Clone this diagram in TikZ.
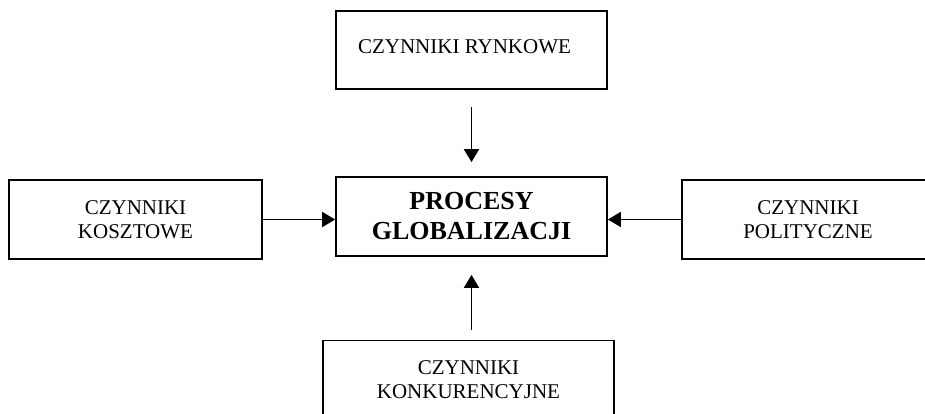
\documentclass[tikz,border=0pt]{standalone}
\usepackage{fontspec}
\setmainfont{Liberation Serif}
\usepackage{tikz}
\usetikzlibrary{arrows.meta,positioning}

\begin{document}
\begin{tikzpicture}[x=1pt,y=1pt,
	factor/.style={draw,line width=1.7pt,minimum height=79pt,align=center,
		font=\fontsize{21}{24}\selectfont,inner sep=0pt},
	core/.style={factor,minimum width=271pt,font=\fontsize{26}{30}\selectfont\bfseries},
	pushes/.style={line width=1.7pt,-{Triangle[length=13pt,width=15pt]}}]
	\clip (0,0) rectangle (925,413);
	\node[core] (proc) at (471.5,196.5) {PROCESY\\GLOBALIZACJI};
	\node[factor,minimum width=271pt,minimum height=78pt] (rynek) at (471.5,363) {\hspace*{-14pt}\raisebox{6pt}{CZYNNIKI RYNKOWE}};
	\node[factor,minimum width=253pt] (koszt) at (135.5,193.5) {CZYNNIKI\\KOSZTOWE};
	\node[factor,minimum width=252pt] (polit) at (808,193.5) {CZYNNIKI\\POLITYCZNE};
	\node[factor,minimum width=291pt] (konk) at (468.5,33) {CZYNNIKI\\KONKURENCYJNE};
	% strzalki do srodka
	\draw[pushes,shorten <=17pt,shorten >=14pt] (rynek.south -| proc.north) -- (proc.north);
	\draw[pushes] (koszt.east) -- (koszt.east -| proc.west);
	\draw[pushes] (polit.west) -- (polit.west -| proc.east);
	\draw[pushes,shorten <=10pt,shorten >=18pt] (konk.north -| proc.south) -- (proc.south);
\end{tikzpicture}
\end{document}
